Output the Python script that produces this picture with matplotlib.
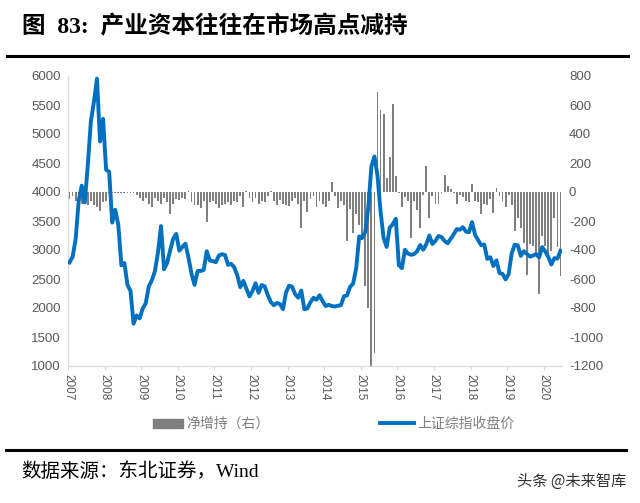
import numpy as np
import pandas as pd
import matplotlib
matplotlib.use("Agg")
import matplotlib.pyplot as plt
from matplotlib.lines import Line2D
from matplotlib.patches import Patch


TITLE = "图  83:  产业资本往往在市场高点减持"
SOURCE = "数据来源：东北证券，Wind"
WATERMARK = "头条 @未来智库"
BAR_LABEL = "净增持（右）"
LINE_LABEL = "上证综指收盘价"

YEARS = [str(y) for y in range(2007, 2021)]

# 上证综指月末收盘价, 2007-01 .. 2020-06
SH_INDEX = [
    2786, 2881, 3184, 3841, 4110, 3821, 4471, 5219, 5552, 5955, 4872, 5262,
    4383, 4349, 3473, 3693, 3433, 2736, 2776, 2397, 2294, 1729, 1871, 1821,
    1991, 2083, 2373, 2478, 2633, 2959, 3412, 2668, 2779, 2996, 3195, 3277,
    2989, 3052, 3109, 2871, 2592, 2398, 2638, 2639, 2656, 2979, 2820, 2808,
    2791, 2905, 2928, 2912, 2743, 2762, 2702, 2567, 2359, 2468, 2333, 2199,
    2293, 2428, 2263, 2396, 2372, 2225, 2104, 2048, 2086, 2069, 1980, 2269,
    2385, 2366, 2237, 2178, 2301, 1979, 1994, 2098, 2175, 2142, 2221, 2116,
    2033, 2056, 2033, 2026, 2039, 2048, 2202, 2217, 2364, 2420, 2683, 3235,
    3210, 3310, 3748, 4442, 4612, 4277, 3664, 3206, 3053, 3383, 3445, 3539,
    2738, 2688, 3004, 2938, 2917, 2930, 2979, 3085, 3005, 3100, 3250, 3104,
    3159, 3242, 3223, 3155, 3117, 3192, 3273, 3361, 3349, 3393, 3317, 3307,
    3481, 3259, 3169, 3082, 3095, 2847, 2876, 2725, 2821, 2603, 2588, 2494,
    2585, 2941, 3091, 3078, 2899, 2979, 2933, 2886, 2905, 2929, 2872, 3050,
    2977, 2880, 2750, 2860, 2852, 2985,
]

# 产业资本净增持 (亿元, 右轴), 同期月度
NET_BUY = [
    -50, -30, -60, -100, -80, -40, -90, -60, -90, -100, -130, -70,
    -60, -10, -5, -5, -10, -5, -10, -5, -5, -10, -20, -40,
    -60, -40, -80, -100, -40, -60, -80, -40, -70, -150, -80, -50,
    -55, -40, -45, 5, -70, -90, -90, -110, -60, -207, -70, -60,
    -80, -110, -90, -80, -70, -90, -60, -70, -30, -100, 5, -40,
    -70, -40, -80, -60, -70, -30, 10, -60, -90, -55, -80, -90,
    -97, -60, -40, -80, -250, -60, -140, -50, -30, -105, -60, -80,
    -100, -60, 70, -30, -110, -60, -90, -340, -120, -280, -150, -230,
    -330, -650, -800, -1200, -1110, 690, 565, 540, 100, 240, 605, 110,
    -10, -100, -35, -60, -320, -60, -125, -250, -20, 180, -180, -30,
    -80, -80, -10, 115, 40, 20, -5, -85, -20, -35, -60, -70,
    55, -60, -70, -150, -80, -90, -50, -145, 30, -30, -60, -100,
    -20, -90, -270, -180, -250, -350, -570, -360, -370, -420, -700, -300,
    -370, -430, -410, -180, -380, -580,
]

CJK = ["Noto Sans CJK SC", "DejaVu Sans"]
SERIF_CJK = ["Liberation Serif", "Noto Sans CJK SC"]
GREY_TXT = "#595959"

plt.rcParams["axes.unicode_minus"] = False


def build_frame():
    months = pd.period_range("2007-01", periods=len(SH_INDEX), freq="M")
    df = pd.DataFrame({"index": SH_INDEX, "net": NET_BUY}, index=months)
    df["pos"] = np.arange(len(df))
    return df


def plot_chart(df):
    fig = plt.figure(figsize=(6.4, 5.03), dpi=100)
    ax = fig.add_axes([68 / 640, 1 - 366 / 503, (562 - 68) / 640, (366 - 76) / 503])
    ax2 = ax.twinx()

    ax2.bar(df["pos"], df["net"], width=0.6, color="#7f7f7f", zorder=2)
    ax.plot(df["pos"], df["index"], color="#0070c0", linewidth=2.8,
            solid_joinstyle="round", zorder=3)

    ax.set_zorder(ax2.get_zorder() + 1)
    ax.patch.set_visible(False)

    n = len(df)
    ax.set_xlim(-0.5, n - 0.5)
    ax.set_ylim(1000, 6000)
    ax2.set_ylim(-1200, 800)
    ax.set_yticks(range(1000, 6001, 500))
    ax2.set_yticks(range(-1200, 801, 200))

    ticks = [12 * k - 0.5 for k in range(len(YEARS))]
    ax.set_xticks(ticks)
    ax.set_xticklabels(YEARS, rotation=270, fontsize=8.5, color=GREY_TXT,
                       family="Liberation Sans")

    for a in (ax, ax2):
        for s in a.spines.values():
            s.set_visible(False)
        a.tick_params(axis="y", length=0, labelsize=9.5, labelcolor=GREY_TXT, pad=5)
        for lbl in a.get_yticklabels():
            lbl.set_family("Liberation Sans")
    ax.spines["left"].set_visible(True)
    ax.spines["left"].set_color("#d9d9d9")
    ax.spines["bottom"].set_visible(True)
    ax.spines["bottom"].set_color("#d9d9d9")
    ax.tick_params(axis="x", length=3, color="#d9d9d9", pad=3)

    # legend
    handles = [Patch(color="#7f7f7f"), Line2D([0], [0], color="#0070c0", linewidth=2.8)]
    fig.legend(handles[:1], [BAR_LABEL], loc="center left", bbox_to_anchor=(140 / 640, 1 - 424 / 503),
               frameon=False, prop={"family": CJK, "size": 10}, labelcolor="#7f7f7f",
               handlelength=2.2, handleheight=0.6, handletextpad=0.2)
    fig.legend(handles[1:], [LINE_LABEL], loc="center left", bbox_to_anchor=(367 / 640, 1 - 424 / 503),
               frameon=False, prop={"family": CJK, "size": 10}, labelcolor="#7f7f7f",
               handlelength=2.5, handletextpad=0.2)

    # title, rules, source
    fig.text(22 / 640, 1 - 27 / 503, TITLE, fontsize=17, fontweight="bold",
             family=SERIF_CJK, va="center", ha="left", color="black")
    fig.add_artist(Line2D([7 / 640, 628 / 640], [1 - 56 / 503, 1 - 56 / 503],
                          color="black", linewidth=2.2, transform=fig.transFigure))
    fig.add_artist(Line2D([6 / 640, 626 / 640], [1 - 450 / 503, 1 - 450 / 503],
                          color="black", linewidth=2.2, transform=fig.transFigure))
    fig.text(21 / 640, 1 - 472 / 503, SOURCE, fontsize=14, family=SERIF_CJK,
             va="center", ha="left", color="black")
    fig.text(626 / 640, 1 - 481 / 503, WATERMARK, fontsize=11, family=CJK,
             va="center", ha="right", color="#333333")

    fig.savefig("out.png", dpi=100)


if __name__ == "__main__":
    plot_chart(build_frame())
